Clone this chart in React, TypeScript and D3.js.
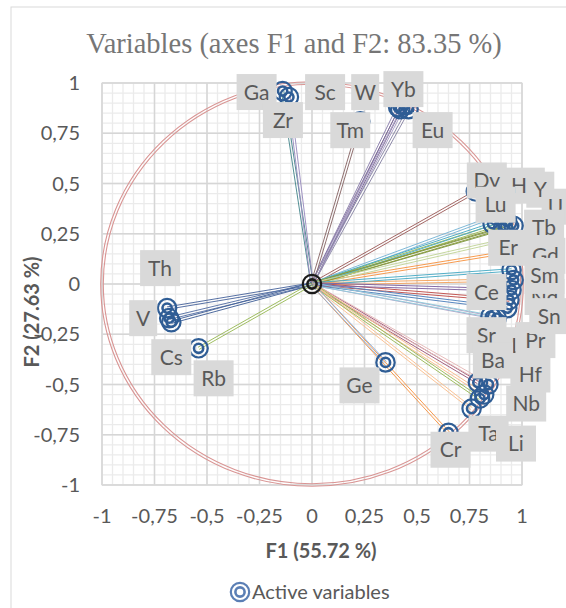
import React from "react";
import * as d3 from "d3";

const names = ["Ga","Zr","Sc","W","Yb","Tm","Eu","Dy","Ho","Y","U","Lu","Gd","Tb","Er","Nd","Sm","La","Pr","Sn","Ce","Sr","Ba","Hf","Nb","Ta","Li","Cr","Ge","Th","V","Cs","Rb"];
const f1 = [-0.14,-0.11,0.41,0.42,0.44,0.23,0.46,0.78,0.88,0.93,0.96,0.86,0.94,0.91,0.92,0.96,0.95,0.88,0.94,0.93,0.95,0.85,0.79,0.84,0.82,0.76,0.80,0.65,0.35,-0.69,-0.68,-0.67,-0.54];
const f2 = [0.96,0.93,0.88,0.87,0.89,0.81,0.87,0.46,0.34,0.31,0.29,0.30,0.16,0.28,0.22,0.02,0.07,-0.17,-0.08,-0.12,-0.03,-0.16,-0.49,-0.50,-0.55,-0.62,-0.57,-0.74,-0.39,-0.12,-0.17,-0.19,-0.32];
const lineColors = ["#4a8a8f","#9b8ec0","#8c7fae","#7d6b94","#a89cc8","#8b6a6a","#8a86a6","#a0605e","#7ab6d6","#9bbb59","#7f9a48","#4bacc6","#f79646","#8a9a3a","#c3d69b","#f4a460","#4bacc6","#b3a2c7","#c0504d","#4f81bd","#8064a2","#93cddd","#a05a7a","#e6b9b8","#f9be8f","#fac090","#9bbb59","#f79646","#8db3e2","#4f6aa0","#5a74a8","#46649a","#9bbb59"];
const labelOffsets: Record<string, [number, number]> = {
  Ga:[-26,1], Zr:[-6,23], Sc:[-73,-15], W:[-35,-17], Yb:[-1,-16], Tm:[-10,9], Eu:[24,21],
  Dy:[11,-11], Ho:[28,-30], Y:[33,-32], U:[42,-19], Lu:[3,-19], Gd:[36,4], Tb:[41,0], Er:[3,8],
  Nd:[31,17], Sm:[33,6], La:[25,27], Pr:[26,40], Sn:[42,8], Ce:[-25,2], Sr:[-4,19],
  Ba:[15,-22], Hf:[42,-10], Nb:[42,9], Ta:[17,25], Li:[36,45], Cr:[2,17], Ge:[-26,23],
  Th:[-7,-40], V:[-26,0], Cs:[0,35], Rb:[15,30],
};
const ticks = [-1,-0.75,-0.5,-0.25,0,0.25,0.5,0.75,1];
const title = "Variables (axes F1 and F2: 83.35 %)";
const xTitle = "F1 (55.72 %)";
const yTitle = "F2 (27.63 %)";
const legendLabel = "Active variables";

const W = 566, H = 608;
const x = d3.scaleLinear().domain([-1, 1]).range([102, 522]);
const y = d3.scaleLinear().domain([-1, 1]).range([485, 83]);
const fmt = (v: number) => String(v).replace(".", ",");
const FONT = "Lato, 'Open Sans', sans-serif";
const TXT = "#595959";

function DoubleLine({ x1, y1, x2, y2, color }: any) {
  const dx = x2 - x1, dy = y2 - y1;
  const len = Math.hypot(dx, dy) || 1;
  const nx = (-dy / len) * 1.2, ny = (dx / len) * 1.2;
  return (
    <g stroke={color} strokeWidth={1} opacity={0.95}>
      <line x1={x1 + nx} y1={y1 + ny} x2={x2 + nx} y2={y2 + ny} />
      <line x1={x1 - nx} y1={y1 - ny} x2={x2 - nx} y2={y2 - ny} />
    </g>
  );
}

function Marker({ cx, cy, color }: any) {
  return (
    <g fill="none" stroke={color}>
      <circle cx={cx} cy={cy} r={9.2} strokeWidth={2.2} />
      <circle cx={cx} cy={cy} r={4.6} strokeWidth={2.6} />
    </g>
  );
}

export default function App() {
  const minor = d3.range(-1, 1.0001, 0.05).map((v) => +v.toFixed(2));
  const cx = x(0), cy = y(0);
  const rx = x(1) - x(0), ry = y(0) - y(1);
  return (
    <svg width={W} height={H} style={{ position: "absolute", left: 0, top: 0, background: "#fff" }}>
      <rect x={11} y={7} width={620} height={700} fill="#fff" stroke="#d9d9d9" />
      <text x={294} y={53} textAnchor="middle" fontFamily="'Liberation Serif', serif" fontSize={28.5} fill="#767676">{title}</text>
      {/* grid */}
      {minor.map((v) => (
        <g key={"m" + v} stroke="#ebebeb" strokeWidth={1.3}>
          <line x1={x(v)} x2={x(v)} y1={y(-1)} y2={y(1)} />
          <line x1={x(-1)} x2={x(1)} y1={y(v)} y2={y(v)} />
        </g>
      ))}
      {ticks.map((v) => (
        <g key={"M" + v} stroke="#d6d6d6" strokeWidth={1.5}>
          <line x1={x(v)} x2={x(v)} y1={y(-1)} y2={y(1)} />
          <line x1={x(-1)} x2={x(1)} y1={y(v)} y2={y(v)} />
        </g>
      ))}
      <rect x={x(-1)} y={y(1)} width={x(1) - x(-1)} height={y(-1) - y(1)} fill="none" stroke="#d9d9d9" />
      {/* tick labels */}
      {ticks.map((v) => (
        <text key={"yt" + v} x={80} y={y(v)} dy="0.35em" textAnchor="end" fontFamily={FONT} fontSize={20} fill={TXT}>{fmt(v)}</text>
      ))}
      {ticks.map((v) => (
        <text key={"xt" + v} x={x(v)} y={516} dy="0.35em" textAnchor="middle" fontFamily={FONT} fontSize={20} fill={TXT}>{fmt(v)}</text>
      ))}
      <text x={321} y={551} dy="0.35em" textAnchor="middle" fontFamily={FONT} fontWeight="bold" fontSize={20} fill={TXT}>{xTitle}</text>
      <text transform={`translate(32,312) rotate(-90)`} dy="0.35em" textAnchor="middle" fontFamily={FONT} fontWeight="bold" fontSize={20} fill={TXT}>{yTitle}</text>
      {/* correlation circle */}
      <g fill="none" stroke="#d99594" strokeWidth={1.1}>
        <ellipse cx={cx} cy={cy} rx={rx + 1.3} ry={ry + 1.3} />
        <ellipse cx={cx} cy={cy} rx={rx - 1.3} ry={ry - 1.3} />
      </g>
      {/* vectors */}
      {names.map((n, i) => (
        <DoubleLine key={"l" + n} x1={cx} y1={cy} x2={x(f1[i])} y2={y(f2[i])} color={lineColors[i]} />
      ))}
      {names.map((n, i) => (
        <Marker key={"p" + n} cx={x(f1[i])} cy={y(f2[i])} color="#2f5d95" />
      ))}
      <Marker cx={cx} cy={cy} color="#1a1a1a" />
      {/* labels */}
      {names.map((n, i) => {
        const [dx, dy] = labelOffsets[n];
        const lx = x(f1[i]) + dx, ly = y(f2[i]) + dy;
        const w = n.length === 1 ? 28 : 40;
        return (
          <g key={"t" + n}>
            <rect x={lx - w / 2} y={ly - 18} width={w} height={36} fill="#d9d9d9" />
            <text x={lx} y={ly} dy="0.36em" textAnchor="middle" fontFamily={FONT} fontSize={21} fill={TXT}>{n}</text>
          </g>
        );
      })}
      {/* legend */}
      <Marker cx={240} cy={592} color="#5b7fb5" />
      <text x={252} y={592} dy="0.35em" fontFamily={FONT} fontSize={20} fill={TXT}>{legendLabel}</text>
    </svg>
  );
}
